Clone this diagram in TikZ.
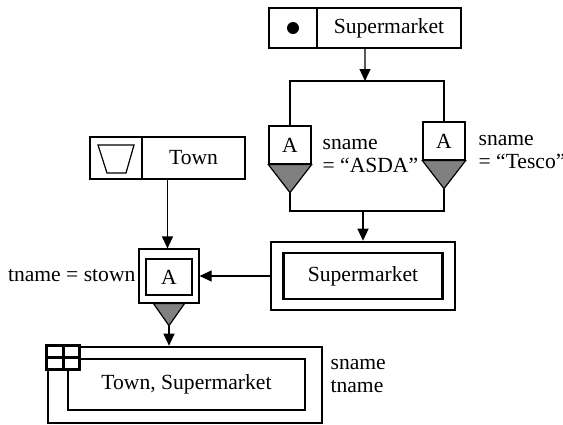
\documentclass[tikz,border=0pt]{standalone}
\usepackage{fontspec}
\setmainfont{Liberation Serif}
\usetikzlibrary{arrows.meta,calc}

\begin{document}
\begin{tikzpicture}[x=0.5pt,y=-0.5pt,
  font=\fontsize{10.8}{11.5}\selectfont,
  line width=0.6pt,
  cell/.style={draw,inner sep=0pt,minimum height=20pt},
  box/.style={draw,inner sep=0pt},
  thickbox/.style={draw,line width=1.3pt,inner sep=0pt},
  lab/.style={anchor=west,align=left,inner sep=0pt},
  arr/.style={-{Triangle[length=6pt,width=5.5pt]}},
  cone/.style={fill=gray,draw}]
\useasboundingbox (0,0) rectangle (563,424);

\node[cell,minimum width=24pt] (supicon) at (293,28) {};
\node[cell,minimum width=72pt] (supname) at (389,28) {Supermarket};
\fill (supicon.center) circle (3pt);
\coordinate (topmid) at ($(supicon.south west)!0.5!(supname.south east)$);
\coordinate (split) at (365,81);
\draw[arr] (topmid) -- (split);

\node[box,minimum width=21pt,minimum height=19pt] (asda) at (290,145) {A};
\node[box,minimum width=21pt,minimum height=19pt] (tesco) at (444,141) {A};
\draw (split) -| (asda.north);
\draw (split) -| (tesco.north);
\coordinate (asdatip) at ($(asda.south)+(0,28)$);
\coordinate (tescotip) at ($(tesco.south)+(0,28)$);
\filldraw[cone] (asda.south west) -- (asda.south east) -- (asdatip) -- cycle;
\filldraw[cone] (tesco.south west) -- (tesco.south east) -- (tescotip) -- cycle;
\node[lab] (asdalab) at (322,156) {sname\\= “ASDA”};
\node[lab] (tescolab) at (478,152) {sname\\= “Tesco”};
\coordinate (merge) at (363,211);
\draw (asdatip) |- (merge) -| (tescotip);

\node[thickbox,minimum width=92pt,minimum height=34pt] (superout) at (363,276) {};
\node[thickbox,minimum width=79.5pt,minimum height=23pt] (superin) at (363,276) {Supermarket};
\draw[arr] (merge) -- (superout.north);

\node[cell,minimum width=26pt,minimum height=21pt] (townicon) at (116,158) {};
\node[cell,minimum width=51.5pt,minimum height=21pt] (townname) at (193.5,158) {Town};
\draw ($(townicon.center)+(-18,-13)$) -- ++(36,0) -- ++(-8,28) -- ++(-19,0) -- cycle;
\coordinate (townmid) at ($(townicon.south west)!0.5!(townname.south east)$);

\node[box,minimum width=30pt,minimum height=27pt] (selout) at (169,276) {};
\node[box,minimum width=23pt,minimum height=18pt] (selin) at (169,277) {A};
\node[anchor=east,inner sep=0pt] (tnamelab) at (136,276) {tname = stown};
\draw[arr] (townmid) -- (townmid |- selout.north);
\draw[arr] (superout.west) -- (selout.east);
\coordinate (seltip) at ($(selout.south)+(0,22)$);
\filldraw[cone] ($(selout.south)+(-15.5,0)$) -- ($(selout.south)+(15.5,0)$) -- (seltip) -- cycle;

\node[thickbox,minimum width=137pt,minimum height=38pt] (joinout) at (185,385) {};
\node[thickbox,minimum width=118.5pt,minimum height=25.5pt] (joinin) at (186.5,384.5) {Town, Supermarket};
\filldraw[fill=white,line width=1.3pt] (joinout.north west) rectangle ++(33,24)
  ($(joinout.north west)+(16.5,0)$) -- ++(0,24)
  ($(joinout.north west)+(0,12)$) -- ++(33,0);
\draw[arr] (seltip) -- (seltip |- joinout.north);
\node[lab] (joinlab) at (330,376) {sname\\tname};
\end{tikzpicture}
\end{document}
